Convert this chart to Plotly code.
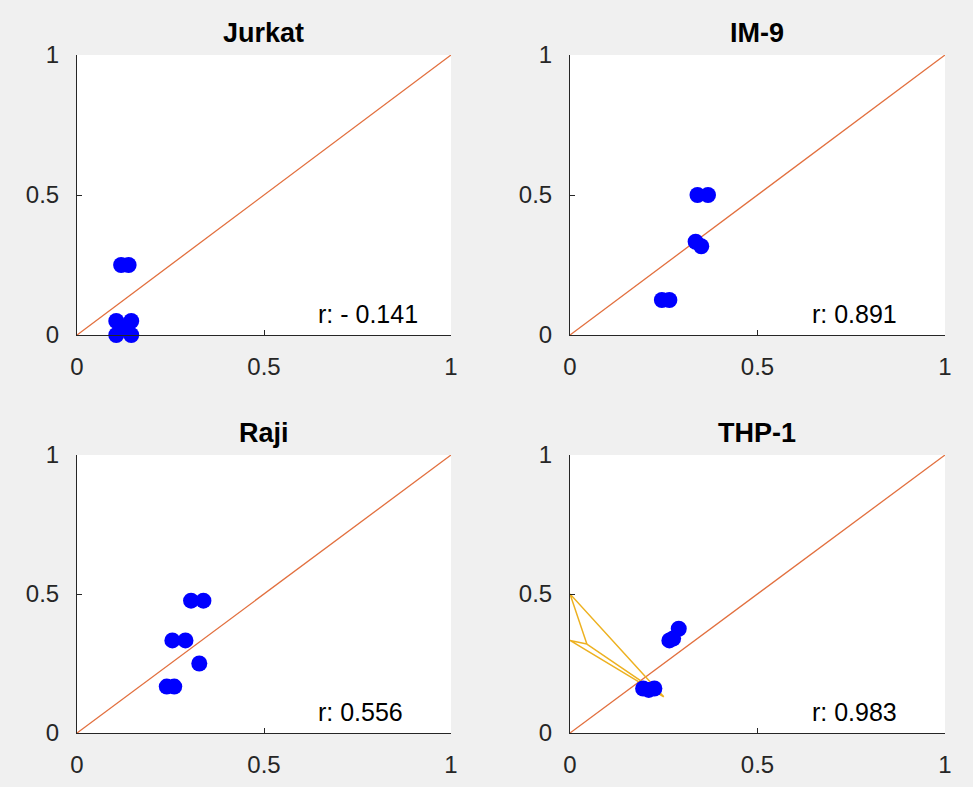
import plotly.graph_objects as go

titles = ["Jurkat", "IM-9", "Raji", "THP-1"]
r_labels = ["r: - 0.141", "r: 0.891", "r: 0.556", "r: 0.983"]

jurkat_x = [0.105, 0.145, 0.105, 0.145, 0.125, 0.118, 0.138]
jurkat_y = [0.05, 0.05, 0.0, 0.0, 0.025, 0.25, 0.25]

im9_x = [0.34, 0.368, 0.335, 0.35, 0.245, 0.265]
im9_y = [0.5, 0.5, 0.333, 0.317, 0.125, 0.125]

raji_x = [0.305, 0.338, 0.255, 0.29, 0.327, 0.24, 0.26]
raji_y = [0.476, 0.476, 0.333, 0.333, 0.25, 0.167, 0.167]

thp1_x = [0.29, 0.265, 0.275, 0.195, 0.225, 0.21]
thp1_y = [0.375, 0.333, 0.34, 0.16, 0.16, 0.155]

poly_x = [0.0, 0.045, 0.0, 0.25, 0.0, None, 0.045, 0.235]
poly_y = [0.5, 0.32, 0.333, 0.13, 0.5, None, 0.32, 0.145]

diag = [0, 1]
ticks = [0, 0.5, 1]
tick_text = ["0", "0.5", "1"]

xs = [jurkat_x, im9_x, raji_x, thp1_x]
ys = [jurkat_y, im9_y, raji_y, thp1_y]

W, H = 973, 787
x_doms = [(77 / W, 451 / W), (570 / W, 945 / W)]
y_doms = [((H - 335) / H, (H - 55) / H), ((H - 733) / H, (H - 455) / H)]

fig = go.Figure()
axis_color = "#262626"
fam = "Liberation Sans, Arial, sans-serif"
font = dict(family=fam, size=24, color=axis_color)

for i in range(4):
    row, col = divmod(i, 2)
    n = i + 1
    xa = "x" if n == 1 else f"x{n}"
    ya = "y" if n == 1 else f"y{n}"
    fig.add_trace(go.Scatter(x=diag, y=diag, mode="lines",
                             line=dict(color="#E2703F", width=1.3),
                             xaxis=xa, yaxis=ya, showlegend=False, hoverinfo="skip"))
    if i == 3:
        fig.add_trace(go.Scatter(x=poly_x, y=poly_y, mode="lines",
                                 line=dict(color="#EDB120", width=1.5),
                                 xaxis=xa, yaxis=ya, showlegend=False, cliponaxis=False))
    fig.add_trace(go.Scatter(x=xs[i], y=ys[i], mode="markers",
                             marker=dict(color="#0000FF", size=16, line=dict(width=0)),
                             xaxis=xa, yaxis=ya, showlegend=False, cliponaxis=False))
    ax_common = dict(range=[0, 1], tickvals=ticks, ticktext=tick_text, ticks="inside",
                     ticklen=5, tickcolor=axis_color, showline=True, linecolor=axis_color,
                     linewidth=1, showgrid=False, zeroline=False, tickfont=font,
                     fixedrange=True, automargin=False)
    fig.layout[f"xaxis{n if n > 1 else ''}"] = go.layout.XAxis(
        domain=x_doms[col], anchor=ya, ticklabelstandoff=10, **ax_common)
    fig.layout[f"yaxis{n if n > 1 else ''}"] = go.layout.YAxis(
        domain=y_doms[row], anchor=xa, ticklabelstandoff=12, **ax_common)
    xd = x_doms[col]
    yd = y_doms[row]
    fig.add_annotation(text=f"<b>{titles[i]}</b>", xref="paper", yref="paper",
                       x=(xd[0] + xd[1]) / 2, y=yd[1], xanchor="center",
                       yanchor="middle", yshift=22,
                       showarrow=False, font=dict(family=fam, size=27, color="#000000"))
    fig.add_annotation(text=r_labels[i], xref=xa, yref=ya, x=0.64, y=0.075,
                       xanchor="left", yanchor="middle",
                       showarrow=False, font=dict(family=fam, size=25, color="#000000"))

fig.update_layout(width=W, height=H, margin=dict(l=0, r=0, t=0, b=0),
                  paper_bgcolor="#F0F0F0", plot_bgcolor="#FFFFFF", autosize=False)

fig.write_html("out.html")
